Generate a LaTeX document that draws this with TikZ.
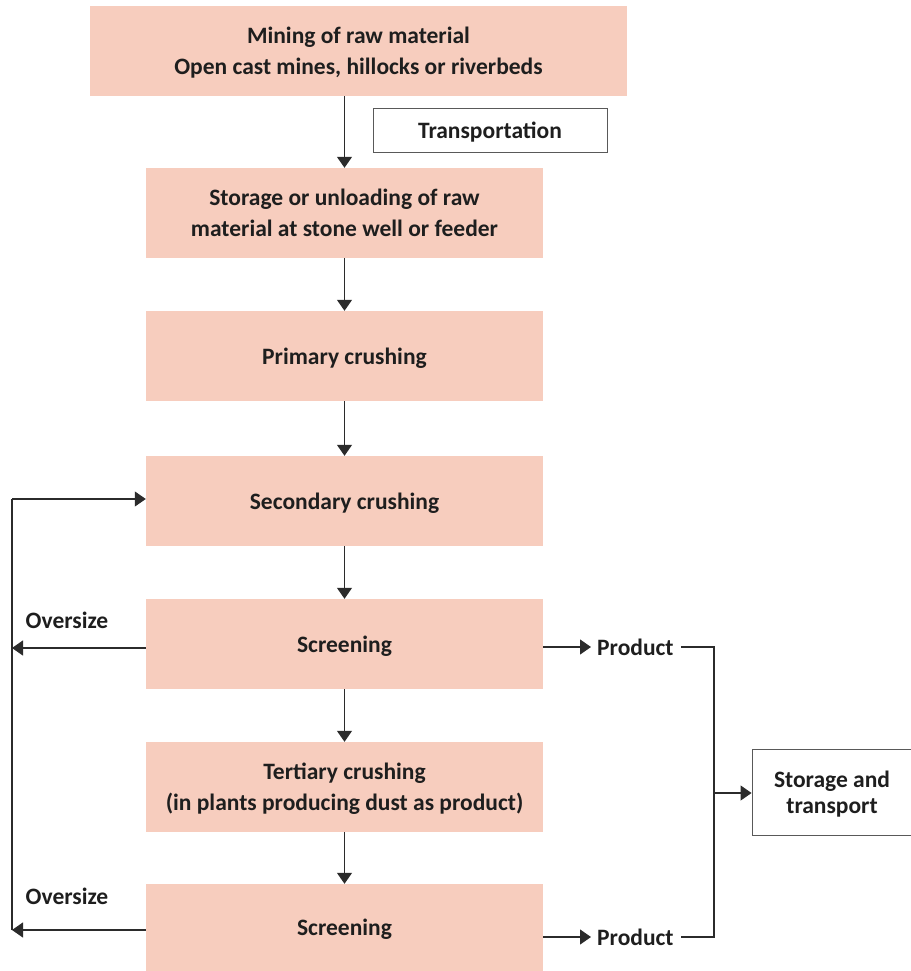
\documentclass[tikz,border=0pt]{standalone}
\usepackage{fontspec}
\setmainfont{Carlito}
\usetikzlibrary{arrows.meta}
\definecolor{boxfill}{HTML}{F7CDBE}
\definecolor{linec}{HTML}{2B2B2B}
\definecolor{txt}{HTML}{1E1E1E}
\begin{document}
\begin{tikzpicture}[x=1pt,y=-1pt,
  font=\fontsize{23.5}{31}\selectfont\bfseries,
  stepbox/.style={fill=boxfill, draw=none, minimum width=397pt, minimum height=90pt, align=center, inner sep=0pt, text depth=0pt, text=txt},
  wbox/.style={fill=white, draw=black!65, line width=0.9pt, align=center, inner sep=0pt, text depth=0pt, text=txt},
  lbl/.style={inner sep=0pt, text=txt},
  arr/.style={draw=linec, line width=1.1pt, -{Triangle[length=11pt,width=15pt]}},
  ln/.style={draw=linec, line width=1.1pt}]
\useasboundingbox (0,0) rectangle (910,971);
\node[stepbox, minimum width=537pt] (mine) at (358.5,51) {Mining of raw material\\Open cast mines, hillocks or riverbeds};
\node[wbox, minimum width=234pt, minimum height=44pt] (trans) at (490,130) {Transportation};
\node[stepbox] (store) at (344.5,213) {Storage or unloading of raw\\material at stone well or feeder};
\node[stepbox] (prim) at (344.5,356) {Primary crushing};
\node[stepbox] (sec) at (344.5,501) {Secondary crushing};
\node[stepbox] (scr1) at (344.5,644) {Screening};
\node[stepbox] (tert) at (344.5,787) {Tertiary crushing\\(in plants producing dust as product)};
\node[stepbox, minimum height=87pt] (scr2) at (344.5,927.5) {Screening};
\node[wbox, minimum width=160pt, minimum height=86pt, font=\fontsize{23.5}{26}\selectfont\bfseries] (st) at (832,792.5) {Storage and\\transport};
\node[lbl, anchor=west] (p1) at (597,647) {Product};
\node[lbl, anchor=west] (p2) at (597,937) {Product};
\node[lbl] (o1) at (67,620) {Oversize};
\node[lbl] (o2) at (67,896) {Oversize};
\coordinate (L1) at (12,499);
\coordinate (L2) at (12,648);
\coordinate (L3) at (12,930);
\coordinate (R1) at (714,647);
\coordinate (R2) at (714,937);
\coordinate (RM) at (714,793);
% main flow
\draw[arr] (mine.south -| store.north) -- (store.north);
\draw[arr] (store.south) -- (prim.north);
\draw[arr] (prim.south) -- (sec.north);
\draw[arr] (sec.south) -- (scr1.north);
\draw[arr] (scr1.south) -- (tert.north);
\draw[arr] (tert.south) -- (scr2.north);
% oversize loop
\draw[ln] (L3) -- (L1);
\draw[arr] (L1) -- (L1 -| sec.west);
\draw[arr] (L2 -| scr1.west) -- (L2);
\draw[arr] (L3 -| scr2.west) -- (L3);
% product
\draw[arr] (scr1.east |- p1) -- ([xshift=-6pt]p1.west);
\draw[arr] (scr2.east |- p2) -- ([xshift=-6pt]p2.west);
\draw[ln] ([xshift=7pt]p1.east |- R1) -- (R1) -- (R2) -- ([xshift=7pt]p2.east |- R2);
\draw[arr] (RM) -- (RM -| st.west);
\end{tikzpicture}
\end{document}
